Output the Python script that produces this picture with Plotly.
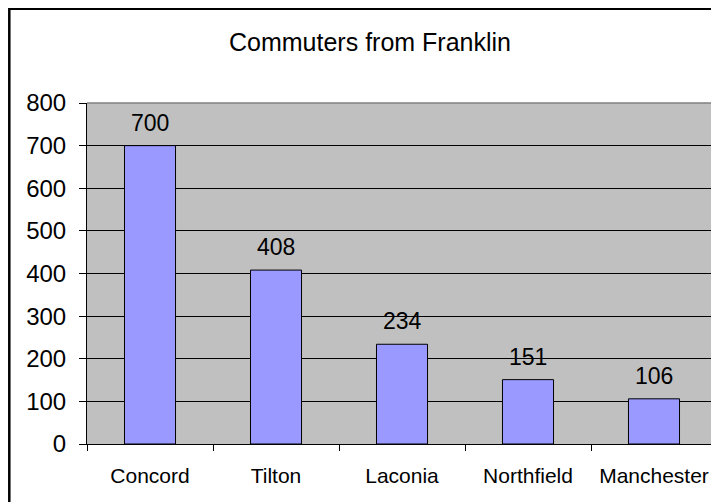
import plotly.graph_objects as go

categories = ["Concord", "Tilton", "Laconia", "Northfield", "Manchester"]
commuters = [700, 408, 234, 151, 106]
y_ticks = [0, 100, 200, 300, 400, 500, 600, 700, 800]

FONT = "Liberation Sans, Arial, sans-serif"
# page body has an 8px margin, so the figure is sized to fill the rest of the window
W, H = 711, 494
L, R, T, B = 79, 2, 95, 58
pw, ph = W - L - R, H - T - B

fig = go.Figure()
fig.add_trace(go.Bar(
    x=categories, y=commuters,
    marker=dict(color="#9999FF", line=dict(color="black", width=1)),
    width=0.405,
    hoverinfo="x+y",
))

for c, v in zip(categories, commuters):
    fig.add_annotation(x=c, y=v, text=str(v), showarrow=False,
                       yanchor="bottom", yshift=8,
                       font=dict(family=FONT, size=23, color="black"))

def px_x(p):
    return (p - L) / pw

def px_y(p):
    return (H - B - p) / ph

# outer chart border (right/bottom edges fall outside the picture)
fig.add_shape(type="rect", xref="paper", yref="paper",
              x0=px_x(1.3), x1=px_x(760), y0=px_y(560), y1=px_y(0.8),
              line=dict(color="black", width=2.5), layer="above")
# plot area border top/right (gray)
fig.add_shape(type="line", xref="paper", yref="paper", x0=0, x1=1, y0=1, y1=1,
              line=dict(color="#808080", width=1.5), layer="above")
fig.add_shape(type="line", xref="paper", yref="paper", x0=1, x1=1, y0=0, y1=1,
              line=dict(color="#808080", width=1.5), layer="above")

fig.update_layout(
    width=W, height=H,
    margin=dict(l=L, r=R, t=T, b=B, autoexpand=False),
    paper_bgcolor="white",
    plot_bgcolor="#C0C0C0",
    showlegend=False,
    font=dict(family=FONT, color="black"),
    title=dict(text="Commuters from Franklin", xref="container", yref="container",
               x=362 / W, y=1 - 34 / H, xanchor="center", yanchor="middle",
               font=dict(family=FONT, size=25, color="black")),
    bargap=0.6,
)
fig.update_yaxes(range=[0, 800], tickvals=y_ticks, showgrid=True, gridcolor="black",
                 gridwidth=1, showline=True, linecolor="black", linewidth=1,
                 ticks="outside", ticklen=7, tickcolor="black",
                 tickfont=dict(family=FONT, size=24, color="black"),
                 ticklabelstandoff=8, zeroline=False, automargin=False)
fig.update_xaxes(showline=True, linecolor="black", linewidth=1,
                 ticks="outside", ticklen=6, tickcolor="black", tickson="boundaries",
                 tickfont=dict(family=FONT, size=21, color="black"),
                 ticklabelstandoff=13, showgrid=False, automargin=False)

fig.write_html("out.html")
